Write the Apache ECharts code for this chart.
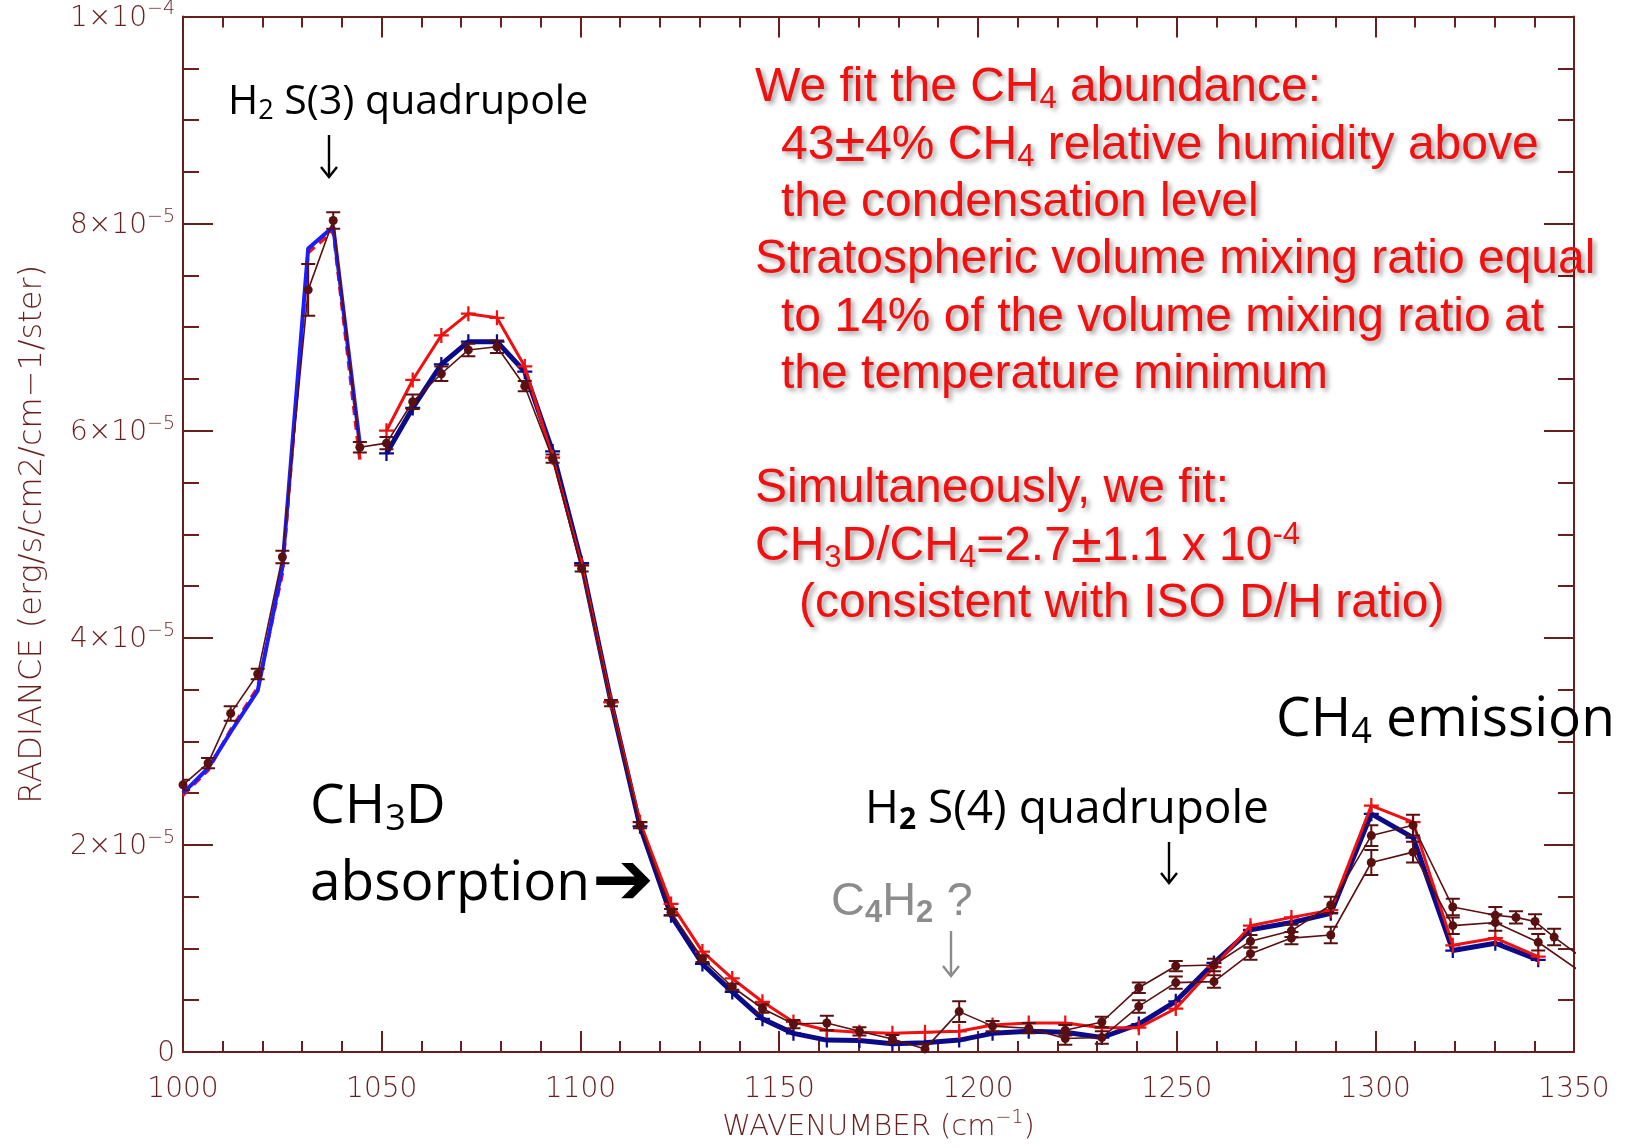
<!DOCTYPE html>
<html>
<head>
<meta charset="utf-8">
<script src="https://cdn.jsdelivr.net/npm/echarts/dist/echarts.min.js"></script>
<style>
  html, body { margin: 0; padding: 0; background: #ffffff; }
  #chart { width: 1629px; height: 1148px; }
</style>
</head>
<body>
<div id="chart"></div>
<script>
// Radiance values below are in units of 1e-5 erg/s/cm2/cm-1/ster
const SCALE = 1e-5;

// Wavenumber sampling (cm^-1) of the short-wave segment and of the main segment
const wnLow = [1000, 1006.3, 1012, 1018.8, 1025, 1031.5, 1037.8, 1044.5];
const wnHigh = [1051.2, 1057.8, 1065, 1071.8, 1079, 1086, 1093, 1100.3, 1107.7, 1115,
                1122.8, 1130.7, 1138.2, 1145.8, 1153.6, 1162, 1170.2, 1178.5, 1186.7, 1195.3,
                1203.7, 1212.8, 1222, 1231.2, 1240.5, 1249.8, 1259.4, 1268.6, 1278.9, 1288.8,
                1299, 1309.5, 1319.5, 1330.2, 1341];

// Model spectra
const modelLowBlue = [2.50, 2.74, 3.09, 3.49, 4.68, 7.76, 7.97, 5.87];
const modelLowRed  = [2.48, 2.72, 3.11, 3.52, 4.62, 7.72, 7.93, 5.72];
const modelHighBlue = [5.78, 6.22, 6.64, 6.86, 6.86, 6.57, 5.80, 4.72, 3.38, 2.18,
                       1.32, 0.85, 0.58, 0.32, 0.18, 0.115, 0.11, 0.08, 0.09, 0.115,
                       0.18, 0.20, 0.19, 0.14, 0.27, 0.49, 0.86, 1.18, 1.25, 1.34,
                       2.30, 2.07, 0.98, 1.05, 0.89];
const modelHighRed  = [6.00, 6.49, 6.92, 7.13, 7.09, 6.62, 5.74, 4.70, 3.38, 2.22,
                       1.43, 0.97, 0.71, 0.485, 0.29, 0.21, 0.19, 0.18, 0.19, 0.20,
                       0.26, 0.28, 0.28, 0.235, 0.235, 0.42, 0.82, 1.22, 1.30, 1.37,
                       2.38, 2.22, 1.03, 1.10, 0.92];

// Observed spectrum 1 (full range) with 1-sigma errors
const obs1Wn = [1000, 1006.3, 1012, 1018.8, 1025, 1031.5, 1037.8, 1044.5,
                1051.2, 1057.8, 1065, 1071.8, 1079, 1086, 1093, 1100.3, 1107.7, 1115,
                1122.8, 1130.7, 1138.2, 1145.8, 1153.6, 1162, 1170.2, 1178.5, 1186.7, 1195.3,
                1203.7, 1212.8, 1222, 1231.2, 1240.5, 1249.8, 1259.4, 1268.6, 1278.9, 1288.8,
                1299, 1309.5, 1319.5, 1330.2, 1341];
const obs1Val = [2.58, 2.79, 3.27, 3.65, 4.78, 7.36, 8.03, 5.84,
                 5.88, 6.28, 6.55, 6.78, 6.81, 6.43, 5.73, 4.67, 3.37, 2.19,
                 1.35, 0.90, 0.63, 0.42, 0.27, 0.28, 0.20, 0.125, 0.03, 0.39,
                 0.25, 0.23, 0.13, 0.14, 0.44, 0.67, 0.68, 0.95, 1.10, 1.13,
                 1.83, 1.93, 1.22, 1.25, 1.06];
const obs1Err = [0.05, 0.05, 0.07, 0.05, 0.06, 0.25, 0.08, 0.05,
                 0.06, 0.07, 0.07, 0.06, 0.06, 0.05, 0.04, 0.03, 0.03, 0.03,
                 0.03, 0.03, 0.03, 0.04, 0.04, 0.07, 0.04, 0.04, 0.05, 0.10,
                 0.05, 0.05, 0.06, 0.06, 0.06, 0.06, 0.06, 0.06, 0.06, 0.08,
                 0.12, 0.10, 0.08, 0.08, 0.08];
const obs1Edge = [1351.5, 0.78];

// Observed spectrum 2 (long-wave part)
const obs2Wn  = [1222, 1231.2, 1240.5, 1249.8, 1259.4, 1268.6, 1278.9, 1288.8,
                 1299, 1309.5, 1319.5, 1330.2, 1335.4, 1340.2, 1345];
const obs2Val = [0.21, 0.29, 0.62, 0.83, 0.84, 1.07, 1.17, 1.42,
                 2.09, 2.19, 1.40, 1.32, 1.30, 1.26, 1.11];
const obs2Err = [0.05, 0.05, 0.05, 0.05, 0.06, 0.06, 0.06, 0.08,
                 0.10, 0.10, 0.08, 0.08, 0.06, 0.07, 0.08];
const obs2Edge = [1351, 0.94];

// Axis ticks
const xTickValues = [1000, 1050, 1100, 1150, 1200, 1250, 1300, 1350];
const yTickMant = ['0', '2×10', '4×10', '6×10', '8×10', '1×10'];
const yTickExp  = ['',  '−5',   '−5',   '−5',   '−5',   '−4'];

const C_AXIS = '#6a1f1f';
const C_OBS = '#5a1010';
const C_RED = '#f01010';
const C_NAVY = '#0b0b8a';
const C_BLUE = '#1c1cff';
const AXIS_FONT = 'DejaVu Sans';
const PLUS = 'path://M8.5,0H11.5V8.5H20V11.5H11.5V20H8.5V11.5H0V8.5H8.5Z';

function pairs(xs, ys) { return xs.map((x, i) => [x, ys[i] * SCALE]); }

function modelSeries(xs, ys, color, width, opts) {
  return Object.assign({
    type: 'line', data: pairs(xs, ys), clip: true, animation: false,
    lineStyle: { color, width }, itemStyle: { color, borderWidth: 0 },
    symbol: 'none', showAllSymbol: true
  }, opts);
}

function obsSeries(xs, ys, edge) {
  const data = pairs(xs, ys);
  data.push({ value: [edge[0], edge[1] * SCALE], symbol: 'none' });
  return {
    type: 'line', data, clip: true, animation: false, z: 5,
    lineStyle: { color: C_OBS, width: 1.6 }, itemStyle: { color: C_OBS },
    symbol: 'circle', symbolSize: 9, showAllSymbol: true
  };
}

function errSeries(xs, ys, es) {
  return {
    type: 'custom', z: 6, clip: true, animation: false,
    data: xs.map((x, i) => [x, (ys[i] - es[i]) * SCALE, (ys[i] + es[i]) * SCALE]),
    encode: { x: 0, y: [1, 2] },
    renderItem(params, api) {
      const lo = api.coord([api.value(0), api.value(1)]);
      const hi = api.coord([api.value(0), api.value(2)]);
      const w = 7;
      const st = { stroke: C_OBS, lineWidth: 2 };
      return { type: 'group', children: [
        { type: 'line', shape: { x1: lo[0], y1: lo[1], x2: hi[0], y2: hi[1] }, style: st },
        { type: 'line', shape: { x1: lo[0] - w, y1: lo[1], x2: lo[0] + w, y2: lo[1] }, style: st },
        { type: 'line', shape: { x1: hi[0] - w, y1: hi[1], x2: hi[0] + w, y2: hi[1] }, style: st }
      ]};
    }
  };
}

// ---- annotation helpers ----
function label(x, y, text, rich) {
  return { type: 'text', x, y, z: 100, silent: true,
           style: { text, rich, align: 'left', verticalAlign: 'middle' } };
}
function downArrow(x, yTop, yBot, color) {
  return { type: 'group', z: 100, silent: true, children: [
    { type: 'line', shape: { x1: x, y1: yTop, x2: x, y2: yBot }, style: { stroke: color, lineWidth: 2.4 } },
    { type: 'polyline', shape: { points: [[x - 8, yBot - 10], [x, yBot], [x + 8, yBot - 10]] },
      style: { stroke: color, lineWidth: 2.4, fill: null } }
  ]};
}

const shadow = { textShadowColor: 'rgba(0,0,0,0.38)', textShadowBlur: 5, textShadowOffsetX: 3, textShadowOffsetY: 3 };
const redRich = {
  n:   Object.assign({ fill: C_RED, fontSize: 48, fontFamily: 'Liberation Sans' }, shadow),
  pm:  Object.assign({ fill: C_RED, fontSize: 56, fontFamily: 'Liberation Sans' }, shadow),
  sub: Object.assign({ fill: C_RED, fontSize: 31, fontFamily: 'Liberation Sans', padding: [22, 0, 0, 0] }, shadow),
  sup: Object.assign({ fill: C_RED, fontSize: 31, fontFamily: 'Liberation Sans', padding: [0, 0, 24, 0] }, shadow)
};
function blackRich(size, subBold) {
  return {
    n:   { fill: '#000', fontSize: size, fontFamily: 'Open Sans' },
    sub: { fill: '#000', fontSize: Math.round(size * 0.65), fontFamily: 'Open Sans',
           fontWeight: subBold ? 'bold' : 'normal', padding: [Math.round(size * 0.45), 0, 0, 0] }
  };
}
const grayRich = {
  n:   { fill: '#8c8c8c', fontSize: 47, fontFamily: 'Liberation Sans' },
  sub: { fill: '#8c8c8c', fontSize: 31, fontFamily: 'Liberation Sans', fontWeight: 'bold', padding: [22, 0, 0, 0] }
};

const graphics = [
  label(228, 102, '{n|H}{sub|2}{n| S(3) quadrupole}', blackRich(41, false)),
  downArrow(329, 135, 177, '#000'),

  label(755, 88,  '{n|We fit the CH}{sub|4}{n| abundance:}', redRich),
  label(781, 146, '{n|43}{pm|±}{n|4% CH}{sub|4}{n| relative humidity above}', redRich),
  label(781, 203, '{n|the condensation level}', redRich),
  label(755, 260, '{n|Stratospheric volume mixing ratio equal}', redRich),
  label(781, 318, '{n|to 14% of the volume mixing ratio at}', redRich),
  label(781, 375, '{n|the temperature minimum}', redRich),
  label(755, 489, '{n|Simultaneously, we fit:}', redRich),
  label(755, 547, '{n|CH}{sub|3}{n|D/CH}{sub|4}{n|=2.7}{pm|±}{n|1.1 x 10}{sup|-4}', redRich),
  label(799, 604, '{n|(consistent with ISO D/H ratio)}', redRich),

  label(1276, 720, '{n|CH}{sub|4}{n| emission}', blackRich(55, false)),
  label(310, 807, '{n|CH}{sub|3}{n|D}', blackRich(55, false)),
  label(310, 884, '{n|absorption}', blackRich(55, false)),
  { type: 'text', x: 592, y: 885, z: 100, silent: true,
    style: { text: '➔', fill: '#000', fontSize: 74, fontFamily: 'DejaVu Sans', align: 'left', verticalAlign: 'middle' } },

  label(865, 810, '{n|H}{sub|2}{n| S(4) quadrupole}', blackRich(46, true)),
  downArrow(1169, 842, 883, '#000'),

  label(831, 902, '{n|C}{sub|4}{n|H}{sub|2}{n| ?}', grayRich),
  downArrow(951, 931, 976, '#8c8c8c')
];

const axisLineStyle = { color: C_AXIS, width: 2 };
const xCommon = {
  type: 'value', min: 1000, max: 1350, interval: 50,
  axisLine: { show: true, onZero: false, lineStyle: axisLineStyle },
  axisTick: { show: true, inside: true, length: 21, lineStyle: axisLineStyle },
  minorTick: { show: true, splitNumber: 5, length: 11, lineStyle: { color: C_AXIS, width: 2 } },
  splitLine: { show: false }, minorSplitLine: { show: false }
};
const yCommon = {
  type: 'value', min: 0, max: 1e-4, interval: 2e-5,
  axisLine: { show: true, onZero: false, lineStyle: axisLineStyle },
  axisTick: { show: true, inside: true, length: 30, lineStyle: axisLineStyle },
  minorTick: { show: true, splitNumber: 4, length: 16, lineStyle: { color: C_AXIS, width: 2 } },
  splitLine: { show: false }, minorSplitLine: { show: false }
};

const option = {
  backgroundColor: '#ffffff',
  animation: false,
  grid: { left: 183, right: 55, top: 14, bottom: 96, containLabel: false },
  xAxis: [
    Object.assign({}, xCommon, {
      position: 'bottom',
      axisLabel: {
        show: true, margin: 24, color: C_AXIS, fontSize: 28, fontFamily: AXIS_FONT, fontWeight: 200,
        formatter: v => { const i = xTickValues.indexOf(Math.round(v)); return i >= 0 ? String(xTickValues[i]) : ''; }
      },
      name: '{t|WAVENUMBER (cm}{s|−1}{t|)}',
      nameLocation: 'middle', nameGap: 57,
      nameTextStyle: { rich: {
        t: { color: C_AXIS, fontSize: 29, fontFamily: AXIS_FONT, fontWeight: 200 },
        s: { color: C_AXIS, fontSize: 19, fontFamily: AXIS_FONT, fontWeight: 200, padding: [0, 0, 18, 0] }
      } }
    }),
    Object.assign({}, xCommon, { position: 'top', axisLabel: { show: false } })
  ],
  yAxis: [
    Object.assign({}, yCommon, {
      position: 'left',
      axisLabel: {
        show: true, margin: 8, color: C_AXIS, fontFamily: AXIS_FONT,
        formatter: v => {
          const i = Math.round(v / 2e-5);
          return yTickExp[i] ? `{m|${yTickMant[i]}}{e|${yTickExp[i]}}` : `{m|${yTickMant[i]}}`;
        },
        rich: {
          m: { color: C_AXIS, fontSize: 28, fontFamily: AXIS_FONT, fontWeight: 200, padding: [4, 0, 0, 0] },
          e: { color: C_AXIS, fontSize: 19, fontFamily: AXIS_FONT, fontWeight: 200, padding: [0, 0, 14, 0] }
        }
      },
      name: 'RADIANCE (erg/s/cm2/cm−1/ster)',
      nameLocation: 'middle', nameRotate: 90, nameGap: 134,
      nameTextStyle: { color: C_AXIS, fontSize: 32, fontFamily: AXIS_FONT, fontWeight: 200 }
    }),
    Object.assign({}, yCommon, { position: 'right', axisLabel: { show: false } })
  ],
  series: [
    modelSeries(wnLow, modelLowRed, C_RED, 3.5, { z: 2, lineStyle: { color: C_RED, width: 3.5, type: [9, 6] } }),
    modelSeries(wnLow, modelLowBlue, C_BLUE, 4, { z: 3 }),
    modelSeries(wnHigh, modelHighBlue, C_NAVY, 5, { z: 2, symbol: PLUS, symbolSize: 15 }),
    modelSeries(wnHigh, modelHighRed, C_RED, 3, { z: 3, symbol: PLUS, symbolSize: 15 }),
    obsSeries(obs1Wn, obs1Val, obs1Edge),
    errSeries(obs1Wn, obs1Val, obs1Err),
    obsSeries(obs2Wn, obs2Val, obs2Edge),
    errSeries(obs2Wn, obs2Val, obs2Err)
  ],
  graphic: graphics
};

const chart = echarts.init(document.getElementById('chart'), null, { renderer: 'canvas' });
chart.setOption(option);
</script>
</body>
</html>
